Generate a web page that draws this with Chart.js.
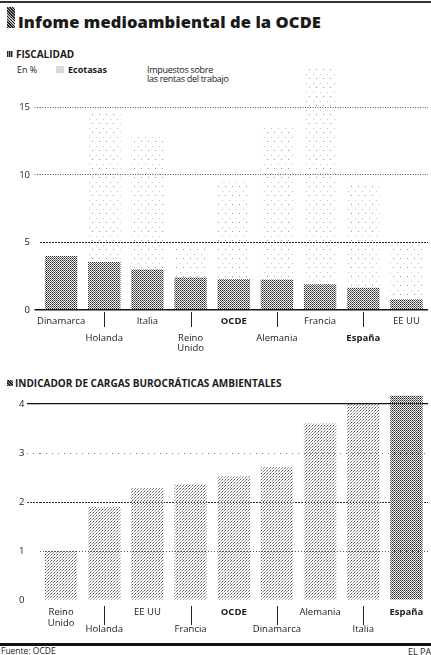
<!DOCTYPE html>
<html lang="es">
<head>
<meta charset="utf-8">
<script src="https://cdn.jsdelivr.net/npm/chart.js@4.4.1/dist/chart.umd.min.js"></script>
<style>
  html, body { margin: 0; padding: 0; background: #fff; }
  body { width: 431px; height: 655px; position: relative; overflow: hidden; font-family: "Open Sans", sans-serif; color: #1a1a1a; }
  .abs { position: absolute; white-space: nowrap; line-height: 1; }
  canvas { position: absolute; left: 0; }
  .icon { position: absolute; }
</style>
</head>
<body>
<div class="abs" style="left:0;top:1px;width:431px;height:2px;background:#333"></div>
<div class="icon" style="left:7px;top:7px;width:8px;height:21px;background:repeating-linear-gradient(45deg,#222 0 1px,#bbb 1px 2px)"></div>
<div class="abs" style="left:18px;top:13.5px;font-size:16.5px;font-weight:800;letter-spacing:0.1px">Infome medioambiental de la OCDE</div>

<div class="icon" style="left:7px;top:51px;width:6px;height:6px;background:repeating-linear-gradient(90deg,#222 0 1px,#999 1px 2px)"></div>
<div class="abs" style="left:16px;top:48.6px;font-size:10px;font-weight:700">FISCALIDAD</div>
<div class="abs" style="left:17px;top:65px;font-size:9px">En %</div>
<div class="icon" style="left:56px;top:66px;width:8px;height:7px;background:radial-gradient(#888 0.5px, transparent 0.8px) 0 0/2px 2px"></div>
<div class="abs" style="left:68px;top:65px;font-size:9px;font-weight:700">Ecotasas</div>
<div class="abs" style="left:147px;top:65px;font-size:9px;letter-spacing:-0.3px">Impuestos sobre</div>
<div class="abs" style="left:147px;top:74px;font-size:9px;letter-spacing:-0.3px">las rentas del trabajo</div>

<canvas id="c1" width="431" height="312" style="top:50px"></canvas>

<div class="icon" style="left:7px;top:380px;width:6px;height:6px;background:repeating-linear-gradient(45deg,#222 0 1px,#999 1px 2px)"></div>
<div class="abs" style="left:15px;top:377.6px;font-size:10px;font-weight:700">INDICADOR DE CARGAS BUROCRÁTICAS AMBIENTALES</div>

<canvas id="c2" width="431" height="254" style="top:386px"></canvas>

<div class="abs" style="left:0;top:643px;width:431px;height:3px;background:#111"></div>
<div class="abs" style="left:1px;top:647px;font-size:8.5px">Fuente: OCDE</div>
<div class="abs" style="left:408px;top:647px;font-size:9px">EL PAÍS</div>

<script>
// ---------- DATA ----------
const fiscalCategories = ['Dinamarca', 'Holanda', 'Italia', 'Reino Unido', 'OCDE', 'Alemania', 'Francia', 'España', 'EE UU'];
const ecotasas = [4.0, 3.55, 3.0, 2.4, 2.3, 2.25, 1.9, 1.65, 0.8];
const impuestosTrabajo = [0, 11.0, 10.1, 2.35, 7.2, 11.45, 16.1, 7.8, 4.1];
const fiscalTicks = [0, 5, 10, 15];

const cargasCategories = ['Reino Unido', 'Holanda', 'EE UU', 'Francia', 'OCDE', 'Dinamarca', 'Alemania', 'Italia', 'España'];
const cargasValues = [1.0, 1.9, 2.28, 2.36, 2.52, 2.71, 3.6, 4.0, 4.17];
const cargasTicks = [0, 1, 2, 3, 4];

const boldLabels = ['OCDE', 'España'];

// ---------- PATTERNS ----------
function makePattern(w, h, dots) {
  const c = document.createElement('canvas');
  c.width = w; c.height = h;
  const g = c.getContext('2d');
  dots.forEach(d => { g.fillStyle = d[2]; g.fillRect(d[0], d[1], 1, 1); });
  return g.createPattern(c, 'repeat');
}
const densePattern = makePattern(2, 2, [[0, 0, '#2a2a2a'], [1, 1, '#666'], [1, 0, '#e2e2e2']]);
const sparsePattern = makePattern(7, 9, [[1, 1, '#999'], [5, 6, '#c4c4c4']]);
const lightPattern = makePattern(3, 3, [[0, 0, '#555'], [2, 1, '#888'], [1, 2, '#bbb']]);

// ---------- X LABEL PLUGIN ----------
const xLabels = {
  id: 'xLabels',
  afterDraw(chart, args, o) {
    const ctx = chart.ctx;
    const xs = chart.scales.x;
    const base = chart.scales.y.getPixelForValue(0);
    ctx.save();
    ctx.fillStyle = '#1a1a1a';
    ctx.textAlign = 'center';
    ctx.textBaseline = 'alphabetic';
    chart.data.labels.forEach((lab, i) => {
      const x = xs.getPixelForValue(i);
      const row = i % 2;
      const lines = lab === 'Reino Unido' ? ['Reino', 'Unido'] : [lab];
      ctx.font = (boldLabels.includes(lab) ? '700 ' : '400 ') + o.size + 'px "Open Sans"';
      const y0 = base + (row ? o.row1 : o.row0);
      lines.forEach((t, k) => ctx.fillText(t, x, y0 + k * o.lh));
      if (row) {
        ctx.strokeStyle = '#222';
        ctx.lineWidth = 1;
        ctx.beginPath();
        ctx.moveTo(Math.round(x) + 0.5, base + o.t0);
        ctx.lineTo(Math.round(x) + 0.5, base + o.t1);
        ctx.stroke();
      }
    });
    ctx.restore();
  }
};

Chart.defaults.font.family = '"Open Sans"';
Chart.defaults.color = '#1a1a1a';

// ---------- CHART 1: FISCALIDAD ----------
new Chart(document.getElementById('c1'), {
  type: 'bar',
  data: {
    labels: fiscalCategories,
    datasets: [
      { label: 'Ecotasas', data: ecotasas, backgroundColor: densePattern, borderWidth: 0 },
      { label: 'Impuestos sobre las rentas del trabajo', data: impuestosTrabajo, backgroundColor: sparsePattern, borderWidth: 0 }
    ]
  },
  options: {
    responsive: false, animation: false, devicePixelRatio: 1,
    layout: { padding: { top: 5.9, bottom: 52, left: 0, right: 3 } },
    plugins: { legend: { display: false }, tooltip: { enabled: false },
      xLabels: { size: 9.5, row0: 14, row1: 31, lh: 9.5, t0: 2, t1: 17 } },
    datasets: { bar: { barPercentage: 0.75, categoryPercentage: 1 } },
    scales: {
      x: { stacked: true, display: false },
      y: {
        stacked: true, min: 0, max: 18.5,
        afterFit: s => { s.width = 39.5; },
        afterBuildTicks: s => { s.ticks = fiscalTicks.map(v => ({ value: v })); },
        ticks: { padding: 4.5, font: { size: 9.5 }, color: '#222' },
        grid: {
          drawTicks: true, tickLength: 5,
          color: c => c.tick && c.tick.value === 0 ? '#111' : (c.tick && c.tick.value === 5 ? '#222' : '#555'),
          tickColor: c => c.tick && c.tick.value === 0 ? '#111' : (c.tick && c.tick.value === 5 ? 'rgba(0,0,0,0)' : '#555'),
          lineWidth: c => c.tick && c.tick.value === 0 ? 1.5 : 1,
          tickWidth: c => c.tick && c.tick.value === 0 ? 1.5 : 1,
          tickBorderDash: c => c.tick && c.tick.value === 0 ? [] : [1, 1.5]
        },
        border: { display: false, dash: c => c.tick && c.tick.value === 0 ? [] : (c.tick && c.tick.value === 5 ? [2, 1] : [1, 1.5]) }
      }
    }
  },
  plugins: [xLabels]
});

// ---------- CHART 2: CARGAS BUROCRÁTICAS ----------
new Chart(document.getElementById('c2'), {
  type: 'bar',
  data: {
    labels: cargasCategories,
    datasets: [{
      label: 'Indicador de cargas burocráticas ambientales',
      data: cargasValues,
      backgroundColor: c => cargasCategories[c.dataIndex] === 'España' ? densePattern : lightPattern,
      borderWidth: 0
    }]
  },
  options: {
    responsive: false, animation: false, devicePixelRatio: 1,
    layout: { padding: { top: 8.2, bottom: 40, left: 0, right: 3 } },
    plugins: { legend: { display: false }, tooltip: { enabled: false },
      xLabels: { size: 9.5, row0: 15, row1: 32, lh: 11, t0: 6, t1: 25 } },
    datasets: { bar: { barPercentage: 0.75, categoryPercentage: 1 } },
    scales: {
      x: { display: false },
      y: {
        min: 0, max: 4.2,
        afterFit: s => { s.width = 39.5; },
        afterBuildTicks: s => { s.ticks = cargasTicks.map(v => ({ value: v })); },
        ticks: { padding: 2.5, font: { size: 9.5 }, color: '#222' },
        grid: {
          drawTicks: true, tickLength: 12.5,
          color: c => {
            const v = c.tick ? c.tick.value : -1;
            return v === 4 ? '#111' : v === 3 ? '#777' : v === 2 ? '#333' : v === 1 ? '#555' : 'rgba(0,0,0,0)';
          },
          tickColor: c => {
            const v = c.tick ? c.tick.value : -1;
            return v === 4 ? '#111' : v === 3 ? '#777' : v === 2 ? '#333' : 'rgba(0,0,0,0)';
          },
          lineWidth: c => c.tick && c.tick.value === 4 ? 1.3 : 1,
          tickBorderDash: c => {
            const v = c.tick ? c.tick.value : -1;
            return v === 4 ? [] : v === 3 ? [1, 5] : v === 2 ? [2, 1] : [1, 2];
          }
        },
        border: { display: false, dash: c => {
          const v = c.tick ? c.tick.value : -1;
          return v === 4 ? [] : v === 3 ? [1, 5] : v === 2 ? [2, 1] : [1, 2];
        } }
      }
    }
  },
  plugins: [xLabels]
});
</script>
</body>
</html>
